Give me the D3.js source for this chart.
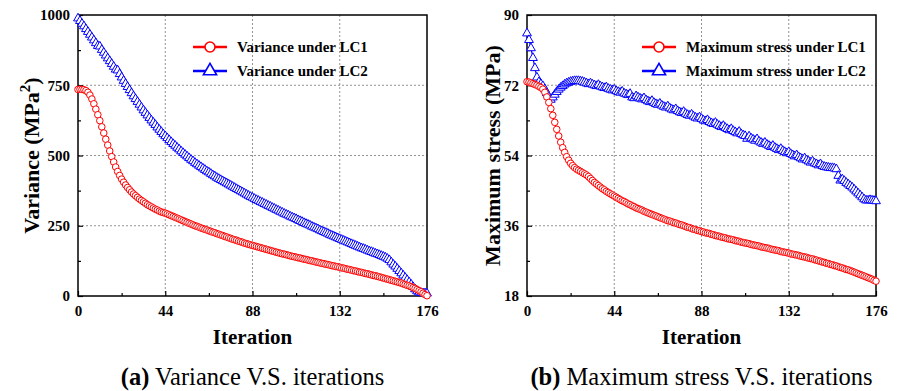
<!DOCTYPE html>
<html>
<head>
<meta charset="utf-8">
<title>Variance and maximum stress vs iterations</title>
<script src="https://cdn.jsdelivr.net/npm/d3@7"></script>
<style>
  body { margin: 0; background: #fff; }
  text { font-family: "Liberation Serif", "Times New Roman", serif; }
</style>
</head>
<body>
<div id="chart"></div>
<script>
// iteration index 0..176 (one marker per iteration)
var xTicks = [0, 44, 88, 132, 176];
var xMinor = [22, 66, 110, 154];

// (a) variance, MPa^2
var varianceTicks = [0, 250, 500, 750, 1000];
var varianceMinor = [125, 375, 625, 875];
var varianceLC1 = [
  735,736,735,734,731,725,715,701,684,665,645,624,602,580,558,537,516,496,477,459,
  443,429,416,405,395,386,378,370,363,357,351,345,340,335,330,325,321,317,313,309,
  306,302,299,297,295,292,289,286,283,280,277,274,271,268,265,262,259,256,253,250,
  248,245,242,240,237,235,232,230,227,225,222,220,217,215,212,210,207,205,202,200,
  198,195,193,191,188,186,184,182,180,178,176,174,172,170,168,166,164,162,160,158,
  156,154,152,150,149,147,145,143,141,140,138,136,135,133,131,130,128,126,125,123,
  121,120,118,116,115,113,112,110,108,107,105,104,102,100,99,97,95,94,92,90,
  89,87,85,84,82,80,79,77,75,73,72,70,68,66,64,62,60,58,56,54,
  52,50,48,46,43,41,38,36,33,30,27,23,19,15,10,5,1
];
var varianceLC2 = [
  988,979,969,960,950,940,930,920,910,900,890,888,876,866,856,846,836,826,816,806,
  803,790,778,766,755,744,733,722,711,701,691,681,671,661,652,643,634,625,617,609,
  600,592,584,576,569,562,555,548,541,535,528,522,515,509,503,497,491,485,480,474,
  469,464,459,454,449,444,440,435,430,426,421,417,413,409,405,401,397,393,389,385,
  381,377,373,369,365,361,357,353,350,346,342,339,335,332,328,325,321,318,314,311,
  307,304,300,297,293,290,287,283,280,277,274,270,267,264,260,257,254,251,247,244,
  241,238,234,231,228,225,222,218,215,212,209,206,203,200,197,194,191,188,185,182,
  179,176,173,170,168,165,162,159,157,154,151,149,146,143,140,137,133,128,120,112,
  105,97,89,81,73,65,57,49,41,32,24,17,13,11,10,10,9
];

// (b) maximum stress, MPa
var stressTicks = [18, 36, 54, 72, 90];
var stressMinor = [27, 45, 63, 81];
var stressLC1 = [
  72.9,72.8,72.6,72.4,72.2,72.0,71.7,71.4,71.0,70.2,69.0,67.6,66.0,64.3,62.5,60.7,59.0,57.4,56.0,54.8,
  53.7,52.8,52.0,51.4,50.9,50.5,50.2,49.9,49.6,49.3,49.0,48.6,48.1,47.6,47.1,46.7,46.3,45.9,45.5,45.2,
  44.8,44.5,44.2,43.9,43.6,43.3,43.0,42.7,42.4,42.2,41.9,41.6,41.4,41.1,40.9,40.6,40.4,40.2,40.0,39.7,
  39.5,39.3,39.1,38.9,38.7,38.5,38.3,38.1,37.9,37.7,37.5,37.3,37.2,37.0,36.8,36.7,36.5,36.3,36.2,36.0,
  35.8,35.6,35.5,35.3,35.1,35.0,34.8,34.7,34.5,34.4,34.2,34.1,34.0,33.8,33.7,33.5,33.4,33.3,33.1,33.0,
  32.9,32.7,32.6,32.5,32.4,32.2,32.1,32.0,31.8,31.7,31.6,31.5,31.4,31.2,31.1,31.0,30.9,30.8,30.6,30.5,
  30.4,30.3,30.2,30.0,29.9,29.8,29.7,29.6,29.4,29.3,29.2,29.1,29.0,28.8,28.7,28.6,28.5,28.4,28.2,28.1,
  28.0,27.9,27.7,27.6,27.5,27.3,27.2,27.0,26.9,26.7,26.6,26.4,26.3,26.1,26.0,25.8,25.7,25.5,25.3,25.2,
  25.0,24.8,24.7,24.5,24.3,24.1,23.9,23.7,23.5,23.3,23.1,22.9,22.7,22.5,22.3,22.0,21.8
];
var stressLC2 = [
  85.3,83.6,81.5,79.0,76.4,74.0,72.8,72.3,71.8,71.0,70.0,69.0,68.3,68.9,69.6,70.3,70.9,71.4,71.8,72.2,
  72.5,72.7,72.9,73.0,73.1,73.1,73.1,73.0,72.9,72.7,72.5,72.3,72.5,72.2,72.0,71.8,72.1,71.7,71.5,71.3,
  71.5,71.1,70.9,70.7,70.9,70.5,70.3,70.1,70.4,69.9,69.7,69.5,69.8,68.9,68.7,69.2,68.9,68.6,68.4,68.7,
  68.2,67.9,67.7,68.0,67.5,67.2,67.0,67.3,66.8,66.5,66.3,66.6,66.1,65.8,65.6,65.9,65.4,65.1,64.9,65.2,
  64.7,64.4,64.2,64.5,64.0,63.7,63.5,63.8,63.4,63.0,62.8,63.1,62.6,62.3,62.1,62.4,61.9,61.6,61.3,61.6,
  61.1,60.8,60.5,60.8,60.3,60.0,59.7,60.1,59.5,59.2,59.0,58.3,58.9,58.4,58.1,57.8,58.2,57.6,57.3,57.0,
  57.3,56.8,56.5,56.2,56.5,56.0,55.7,55.4,55.7,55.2,54.9,54.6,54.9,54.4,54.1,53.8,54.1,53.6,53.3,53.0,
  53.3,52.8,52.5,52.2,52.5,52.0,51.8,51.5,51.8,51.3,51.1,51.0,50.9,50.8,50.8,50.7,50.5,48.8,47.6,47.9,
  47.5,47.0,46.6,46.2,45.8,45.3,44.8,44.3,43.8,43.3,42.8,42.5,42.5,42.6,42.5,42.4,42.3
];

var W = 897, H = 391;
var red = "#ff0000", blue = "#0000ff";

var svg = d3.select("#chart").append("svg")
  .attr("width", W)
  .attr("height", H);

var panels = [
  { left: 78, right: 427, top: 15, bottom: 296, domain: [0, 1000], ticks: varianceTicks, minor: varianceMinor,
    s1: varianceLC1, s2: varianceLC2, names: ["Variance under LC1", "Variance under LC2"],
    legX: 193, ytitleX: 39, caption: ["(a)", " Variance V.S. iterations"], ylabel: "variance" },
  { left: 527, right: 876, top: 15, bottom: 296, domain: [18, 90], ticks: stressTicks, minor: stressMinor,
    s1: stressLC1, s2: stressLC2, names: ["Maximum stress under LC1", "Maximum stress under LC2"],
    legX: 642, ytitleX: 500, caption: ["(b)", " Maximum stress V.S. iterations"], ylabel: "stress" }
];

var triangle = d3.symbol().type(d3.symbolTriangle).size(34);
var triangleBig = d3.symbol().type(d3.symbolTriangle).size(75);

panels.forEach(function(p) {
  var x = d3.scaleLinear().domain([0, 176]).range([p.left, p.right]);
  var y = d3.scaleLinear().domain(p.domain).range([p.bottom, p.top]);
  var g = svg.append("g");

  // dotted grid at inner major ticks
  g.selectAll("line.vgrid").data(xTicks.slice(1, -1)).enter().append("line")
    .attr("x1", function(d) { return x(d); }).attr("x2", function(d) { return x(d); })
    .attr("y1", p.top).attr("y2", p.bottom)
    .attr("stroke", "#777").attr("stroke-width", 0.8).attr("stroke-dasharray", "2,2");
  g.selectAll("line.hgrid").data(p.ticks.slice(1, -1)).enter().append("line")
    .attr("x1", p.left).attr("x2", p.right)
    .attr("y1", function(d) { return y(d); }).attr("y2", function(d) { return y(d); })
    .attr("stroke", "#777").attr("stroke-width", 0.8).attr("stroke-dasharray", "2,2");

  // axes, ticks inward
  g.append("g").attr("transform", "translate(0," + p.bottom + ")")
    .call(d3.axisBottom(x).tickValues(xTicks).tickSize(-5).tickPadding(9).tickFormat(d3.format("d")));
  g.append("g").attr("transform", "translate(0," + p.bottom + ")")
    .call(d3.axisBottom(x).tickValues(xMinor).tickSize(-3).tickFormat(""));
  g.append("g").attr("transform", "translate(" + p.left + ",0)")
    .call(d3.axisLeft(y).tickValues(p.ticks).tickSize(-5).tickPadding(8).tickFormat(d3.format("d")));
  g.append("g").attr("transform", "translate(" + p.left + ",0)")
    .call(d3.axisLeft(y).tickValues(p.minor).tickSize(-3).tickFormat(""));
  g.selectAll(".domain").remove();
  g.selectAll(".tick line").attr("stroke", "#000").attr("stroke-width", 1.2);
  g.selectAll(".tick text").attr("fill", "#000")
    .style("font-family", "'Liberation Serif', serif")
    .style("font-size", "15px").style("font-weight", "bold");

  // frame
  g.append("rect").attr("x", p.left).attr("y", p.top)
    .attr("width", p.right - p.left).attr("height", p.bottom - p.top)
    .attr("fill", "none").attr("stroke", "#000").attr("stroke-width", 1.5);

  // series
  var line = d3.line().x(function(d, i) { return x(i); }).y(function(d) { return y(d); });
  g.append("path").datum(p.s2).attr("d", line)
    .attr("fill", "none").attr("stroke", blue).attr("stroke-width", 1.2);
  g.append("path").datum(p.s1).attr("d", line)
    .attr("fill", "none").attr("stroke", red).attr("stroke-width", 1.2);
  g.selectAll("path.tri").data(p.s2).enter().append("path")
    .attr("d", triangle)
    .attr("transform", function(d, i) { return "translate(" + x(i) + "," + y(d) + ")"; })
    .attr("fill", "#fff").attr("stroke", blue).attr("stroke-width", 1);
  g.selectAll("circle.dot").data(p.s1).enter().append("circle")
    .attr("cx", function(d, i) { return x(i); })
    .attr("cy", function(d) { return y(d); })
    .attr("r", 3.3)
    .attr("fill", "#fff").attr("stroke", red).attr("stroke-width", 1);

  // legend
  var leg = g.append("g");
  [[red, 47], [blue, 71]].forEach(function(c, k) {
    leg.append("line").attr("x1", p.legX).attr("x2", p.legX + 34)
      .attr("y1", c[1]).attr("y2", c[1]).attr("stroke", c[0]).attr("stroke-width", 2.5);
    if (k === 0) {
      leg.append("circle").attr("cx", p.legX + 17).attr("cy", c[1]).attr("r", 5)
        .attr("fill", "#fff").attr("stroke", red).attr("stroke-width", 1.6);
    } else {
      leg.append("path").attr("d", triangleBig)
        .attr("transform", "translate(" + (p.legX + 17) + "," + c[1] + ")")
        .attr("fill", "#fff").attr("stroke", blue).attr("stroke-width", 1.6);
    }
    leg.append("text").attr("x", p.legX + 44).attr("y", c[1] + 5)
      .style("font-size", "15px").style("font-weight", "bold")
      .text(p.names[k]);
  });

  // axis titles
  var cx = (p.left + p.right) / 2;
  g.append("text").attr("x", cx).attr("y", 344)
    .attr("text-anchor", "middle")
    .style("font-size", "21px").style("font-weight", "bold")
    .text("Iteration");
  var yt = g.append("text")
    .attr("transform", "translate(" + p.ytitleX + "," + ((p.top + p.bottom) / 2) + ") rotate(-90)")
    .attr("text-anchor", "middle")
    .style("font-size", "22px").style("font-weight", "bold");
  if (p.ylabel === "variance") {
    yt.append("tspan").text("Variance (MPa");
    yt.append("tspan").attr("dy", -9).style("font-size", "15px").text("2");
    yt.append("tspan").attr("dy", 9).text(")");
  } else {
    yt.text("Maximum stress (MPa)");
  }

  // caption
  var cap = g.append("text").attr("x", cx).attr("y", 385)
    .attr("text-anchor", "middle").style("font-size", "24.5px");
  cap.append("tspan").style("font-weight", "bold").text(p.caption[0]);
  cap.append("tspan").text(p.caption[1]);
});
</script>
</body>
</html>
